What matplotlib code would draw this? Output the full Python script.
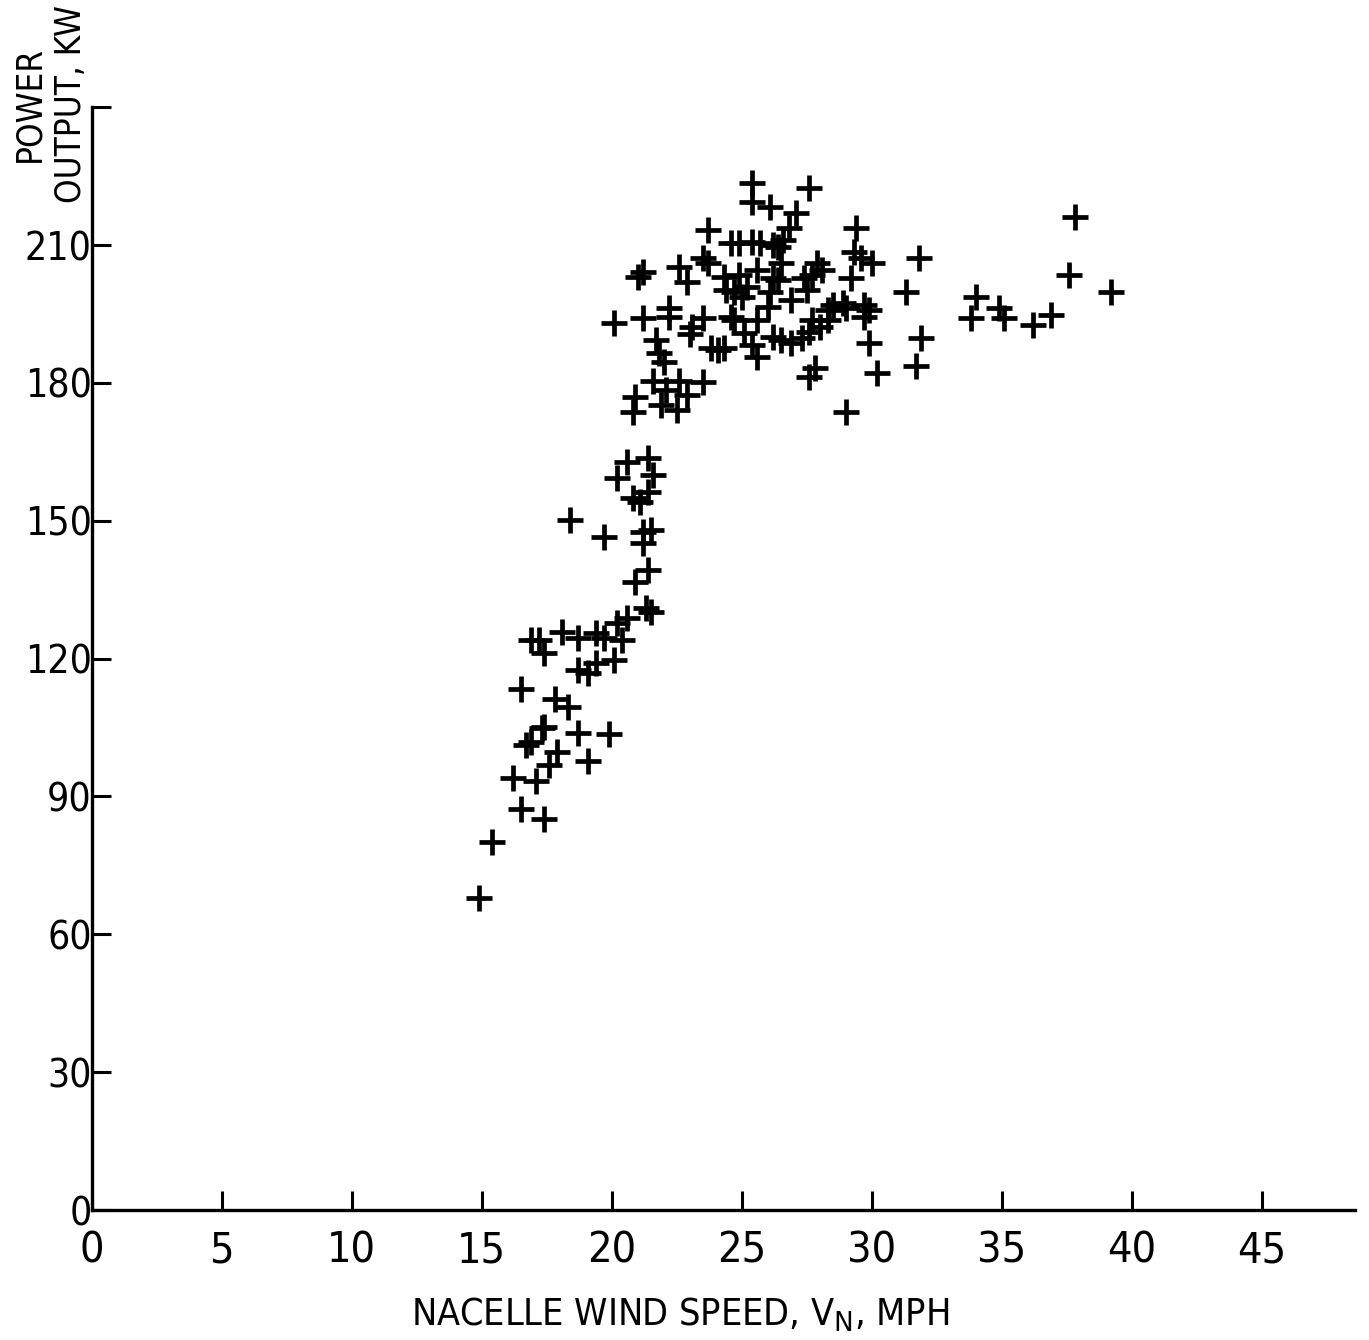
import matplotlib
matplotlib.use("Agg")
import matplotlib.pyplot as plt
from matplotlib import font_manager
from matplotlib.font_manager import FontProperties

# Nacelle wind speed (mph) and measured power output (kW)
wind_speed = [
    14.9, 15.4, 16.5, 17.4, 16.2, 17.1, 17.6, 16.7, 16.9, 17.9,
    19.1, 19.9, 18.7, 17.4, 17.3, 17.8, 18.3, 16.5, 18.7, 19.1,
    19.4, 20.1, 16.9, 17.2, 17.4, 18.1, 18.7, 19.4, 19.7, 20.4,
    20.2, 20.6, 21.5, 21.3, 21.4, 20.9, 21.2, 21.2, 21.5, 19.7,
    18.4, 20.8, 21.4, 21.1, 20.2, 21.6, 20.6, 21.4,
    20.8, 21.9, 22.5, 20.9, 22.1, 22.9, 21.6, 22.6, 23.5, 22.0,
    21.8, 21.7, 23.0, 23.8, 24.1, 24.3, 20.1, 21.2, 22.2, 23.5,
    22.2, 25.4, 25.6, 26.2, 26.9, 26.5, 27.3, 27.6, 27.7, 28.3,
    28.0, 29.0, 27.6, 27.8, 29.9, 30.2, 31.9, 31.7, 31.3, 31.8,
    25.1, 25.6, 26.0, 24.6, 24.7, 23.1,
    25.4, 25.4, 26.1, 27.1, 27.6, 26.8, 23.7, 24.6, 24.9, 25.4,
    25.7, 26.2, 26.6, 23.5, 22.6, 22.9, 21.0, 21.2, 24.3, 24.9,
    25.6, 26.2, 24.4, 24.7, 25.0, 25.2, 26.1, 26.4, 26.5, 26.4,
    27.4, 27.7, 27.9, 28.1, 29.2, 26.9, 27.5, 28.5, 28.9, 29.7,
    29.9, 29.7, 29.4, 29.3, 29.6, 30.0, 28.3, 29.0, 23.7,
    34.0, 33.8, 34.9, 35.1, 36.2, 36.9, 37.6, 37.8, 39.2,
]
power_kw = [
    67.9, 80.1, 87.3, 85.1, 94.0, 93.4, 96.8, 101.2, 101.9, 99.7,
    97.7, 103.6, 103.8, 105.1, 104.9, 111.2, 109.5, 113.4, 117.5, 116.9,
    119.0, 119.7, 124.0, 124.0, 121.2, 125.8, 124.5, 125.6, 124.5, 124.0,
    127.7, 128.8, 130.1, 131.0, 139.3, 136.7, 145.2, 147.6, 148.0, 146.5,
    150.2, 154.9, 156.3, 154.1, 159.3, 160.0, 162.8, 163.7,
    173.7, 175.2, 174.1, 176.9, 178.5, 177.4, 180.4, 180.4, 180.2, 184.5,
    186.5, 189.3, 190.6, 187.6, 187.2, 187.6, 193.0, 194.1, 194.3, 194.1,
    196.3, 188.2, 185.6, 190.0, 188.7, 189.3, 189.8, 191.1, 193.7, 193.7,
    192.2, 173.7, 181.3, 183.2, 188.7, 182.2, 189.8, 183.7, 199.8, 207.2,
    190.9, 193.7, 196.5, 194.3, 193.7, 192.2,
    223.5, 219.4, 218.3, 217.0, 222.4, 213.7, 213.3, 210.4, 210.4, 210.7,
    210.4, 210.0, 211.1, 207.2, 205.2, 202.0, 203.0, 204.1, 203.0, 203.5,
    204.6, 202.8, 200.2, 199.8, 198.7, 200.9, 199.8, 209.6, 206.1, 202.4,
    202.8, 203.5, 206.1, 204.6, 202.8, 198.0, 200.2, 197.0, 197.4, 197.0,
    195.9, 194.3, 213.7, 208.5, 207.2, 206.1, 195.9, 196.3, 206.1,
    198.7, 194.1, 196.3, 194.1, 192.6, 194.8, 203.5, 216.1, 199.8,
]

x_ticks = [0, 5, 10, 15, 20, 25, 30, 35, 40, 45]
x_tick_labels = ["0", "5", "10", "15", "20", "25", "30", "35", "40", "45"]
y_ticks = [0, 30, 60, 90, 120, 150, 180, 210, 240]
y_tick_labels = ["0", "30", "60", "90", "120", "150", "180", "210", ""]


def narrow_font():
    """Pick a narrow sans-serif face for the lettering, if one is installed."""
    files = font_manager.findSystemFonts()
    prefs = ["LiberationSansNarrow-Regular", "DejaVuSansCondensed.ttf",
             "OpenSans_Condensed", "OpenSansCondensed", "Roboto_Condensed",
             "RobotoCondensed", "Condensed", "Narrow"]
    for key in prefs:
        for f in files:
            name = f.split("/")[-1]
            if key in name and "Bold" not in name and "Oblique" not in name \
                    and "Italic" not in name:
                return f
    return None


narrow = narrow_font()


def fp(size):
    if narrow:
        return FontProperties(fname=narrow, size=size)
    return FontProperties(family="DejaVu Sans", stretch="condensed", size=size)


fig = plt.figure(figsize=(13.69, 13.40), dpi=100)
ax = fig.add_axes([0.067, 0.097, 0.923, 0.823])

ax.plot(wind_speed, power_kw, linestyle="none", marker="+",
        markersize=19, markeredgewidth=3.4, color="black")

ax.set_xlim(0, 48.6)
ax.set_ylim(0, 240)

for side in ("top", "right"):
    ax.spines[side].set_visible(False)
for side in ("left", "bottom"):
    ax.spines[side].set_linewidth(2.4)
    ax.spines[side].set_color("black")

ax.set_xticks(x_ticks)
ax.set_xticklabels(x_tick_labels, fontproperties=fp(31))
ax.set_yticks(y_ticks)
ax.set_yticklabels(y_tick_labels, fontproperties=fp(28))
ax.tick_params(axis="both", direction="in", length=14, width=2.2, colors="black")
ax.tick_params(axis="x", pad=14)
ax.tick_params(axis="y", pad=0)

fig.text(680 / 1369, 1 - 1315 / 1340, "NACELLE WIND SPEED, V$_{\\mathrm{N}}$, MPH",
         ha="center", va="center", fontproperties=fp(27))
fig.text(50 / 1369, 1 - 104 / 1340, "POWER\nOUTPUT, KW", rotation=90,
         ha="center", va="center", multialignment="center",
         fontproperties=fp(25), linespacing=1.3)

fig.savefig("out.png", dpi=100, facecolor="white")
